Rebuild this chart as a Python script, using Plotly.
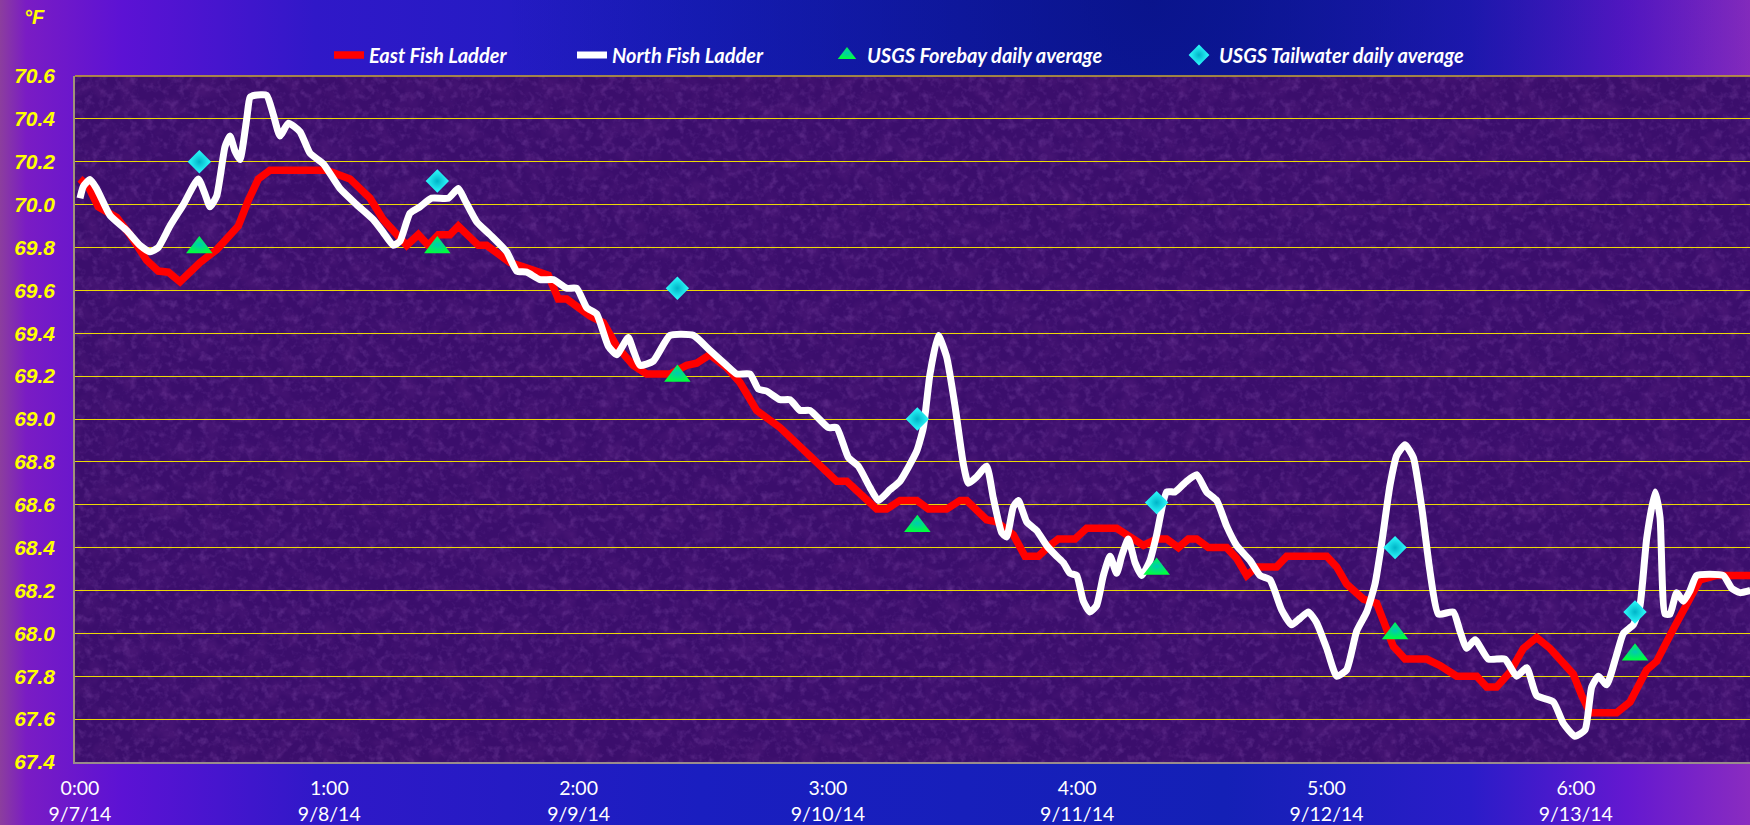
import base64
import pandas as pd
import plotly.graph_objects as go

START = pd.Timestamp("2014-09-07 00:00")

# ---- data (hours after 9/7/14 0:00, degrees F) ----
east_hours = [0, 0.80, 1.76, 3.53, 4.81, 6.42, 7.54, 8.50, 9.63, 11.55, 13.16, 15.24, 16.21, 17.17,
              18.29, 23.75, 25.99, 27.92, 29.20, 31.45, 32.57, 33.53, 34.50, 35.62, 36.42, 38.35,
              39.15, 41.40, 42.68, 43.96, 45.09, 46.05, 46.85, 49.10, 50.38, 51.66, 53.27, 54.55,
              56.80, 58.40, 59.37, 60.65, 62.25, 63.54, 65.14, 67.39, 69.64, 72.84, 73.81, 76.70,
              77.66, 78.94, 80.55, 81.67, 83.43, 84.72, 85.36, 87.28, 88.25, 89.85, 90.98, 92.26,
              93.38, 94.18, 95.79, 96.91, 99.80, 101.08, 102.37, 103.65, 104.61, 105.74, 106.70,
              107.50, 108.62, 110.39, 111.35, 112.32, 113.28, 115.20, 116.17, 120.02, 120.98,
              121.94, 123.55, 124.83, 125.63, 126.43, 127.56, 129.64, 130.93, 132.53, 134.46,
              135.42, 136.38, 137.67, 138.95, 140.23, 141.52, 143.76, 144.57, 145.37, 147.93,
              149.22, 150.82, 151.79, 153.39, 154.35, 155.96, 157.56, 160.8]
east_temp = [70.12, 70.085, 69.99, 69.94, 69.86, 69.74, 69.69, 69.685, 69.64, 69.73, 69.79, 69.90,
             70.02, 70.12, 70.16, 70.16, 70.12, 70.03, 69.93, 69.81, 69.86, 69.81, 69.86, 69.86,
             69.90, 69.81, 69.81, 69.73, 69.71, 69.69, 69.67, 69.56, 69.56, 69.48, 69.45, 69.34,
             69.25, 69.21, 69.21, 69.25, 69.26, 69.30, 69.24, 69.17, 69.04, 68.96, 68.86, 68.71,
             68.71, 68.58, 68.58, 68.62, 68.62, 68.58, 68.58, 68.62, 68.62, 68.53, 68.52, 68.46,
             68.36, 68.36, 68.41, 68.44, 68.44, 68.49, 68.49, 68.45, 68.41, 68.44, 68.44, 68.40,
             68.44, 68.44, 68.40, 68.40, 68.35, 68.27, 68.31, 68.31, 68.36, 68.36, 68.31, 68.23,
             68.16, 68.14, 68.04, 67.94, 67.88, 67.88, 67.85, 67.80, 67.80, 67.75, 67.75, 67.82,
             67.93, 67.98, 67.93, 67.81, 67.71, 67.63, 67.63, 67.68, 67.83, 67.87, 68.02, 68.11,
             68.25, 68.27, 68.27]

north_hours = [0, 0.32, 0.96, 1.60, 2.89, 4.49, 5.78, 6.74, 7.54, 8.66, 9.95, 11.39, 12.03, 12.52,
               13.16, 13.96, 14.44, 14.92, 15.40, 16.05, 16.37, 16.85, 17.97, 18.61, 19.25, 20.06,
               21.18, 22.14, 23.43, 25.03, 26.63, 28.24, 29.20, 30.16, 30.81, 31.77, 32.73, 33.85,
               35.46, 36.42, 37.06, 38.19, 39.47, 41.08, 42.04, 43.00, 44.28, 45.57, 46.85, 47.81,
               48.78, 49.74, 50.86, 51.66, 52.79, 53.27, 53.91, 55.19, 56.80, 59.05, 60.65, 62.25,
               63.22, 64.50, 65.30, 66.11, 67.39, 68.35, 69.31, 70.28, 72.04, 72.84, 73.97, 74.93,
               76.05, 76.86, 77.98, 78.94, 80.55, 81.19, 81.83, 82.63, 83.43, 84.24, 85.04, 85.52,
               86.32, 87.28, 87.93, 88.73, 89.21, 89.85, 90.33, 91.14, 92.10, 93.06, 94.02, 94.67,
               95.31, 95.95, 96.59, 97.23, 97.87, 98.52, 99.16, 99.80, 100.28, 100.92, 101.57,
               102.21, 103.01, 103.65, 104.61, 105.42, 106.54, 107.50, 108.46, 109.43, 110.39,
               111.35, 112.64, 113.60, 114.56, 115.68, 116.65, 117.45, 118.25, 119.05, 120.02,
               120.98, 121.94, 122.90, 123.87, 124.67, 125.31, 126.11, 126.76, 127.56, 128.36,
               129.16, 129.96, 130.77, 132.21, 132.85, 133.49, 134.30, 135.58, 137.18, 138.31,
               139.27, 140.23, 141.84, 142.80, 143.92, 144.89, 145.53, 146.17, 146.97, 147.93,
               148.58, 149.54, 150.18, 150.82, 151.63, 152.11, 152.59, 153.07, 153.71, 154.35,
               155.00, 155.64, 158.20, 159.01, 159.81, 160.8]
north_temp = [70.03, 70.085, 70.117, 70.075, 69.95, 69.88, 69.81, 69.78, 69.80, 69.90, 70.00, 70.12,
              70.05, 69.99, 70.04, 70.27, 70.32, 70.25, 70.21, 70.40, 70.50, 70.51, 70.51, 70.42,
              70.32, 70.38, 70.34, 70.24, 70.19, 70.075, 70.00, 69.93, 69.87, 69.81, 69.83, 69.96,
              69.99, 70.03, 70.03, 70.075, 70.02, 69.92, 69.86, 69.78, 69.69, 69.685, 69.65, 69.65,
              69.61, 69.61, 69.52, 69.49, 69.34, 69.30, 69.38, 69.32, 69.25, 69.27, 69.39, 69.39,
              69.32, 69.25, 69.21, 69.21, 69.14, 69.13, 69.09, 69.09, 69.04, 69.04, 68.96, 68.96,
              68.82, 68.78, 68.68, 68.62, 68.67, 68.71, 68.85, 68.96, 69.21, 69.39, 69.29, 69.06,
              68.79, 68.70, 68.73, 68.78, 68.63, 68.47, 68.45, 68.59, 68.62, 68.52, 68.48, 68.41,
              68.36, 68.33, 68.28, 68.27, 68.15, 68.10, 68.13, 68.27, 68.36, 68.28, 68.36, 68.44,
              68.33, 68.27, 68.34, 68.46, 68.66, 68.66, 68.71, 68.74, 68.66, 68.62, 68.50, 68.41,
              68.34, 68.27, 68.25, 68.11, 68.04, 68.07, 68.10, 68.05, 67.93, 67.80, 67.83, 68.01,
              68.10, 68.23, 68.42, 68.69, 68.83, 68.88, 68.82, 68.59, 68.29, 68.09, 68.10, 68.01,
              67.93, 67.97, 67.88, 67.88, 67.80, 67.84, 67.71, 67.68, 67.58, 67.52, 67.55, 67.75,
              67.80, 67.76, 67.90, 68.00, 68.04, 68.13, 68.44, 68.66, 68.54, 68.09, 68.09, 68.19,
              68.15, 68.20, 68.27, 68.27, 68.21, 68.19, 68.20]

usgs_hours = [11.49, 34.40, 57.51, 80.61, 103.65, 126.60, 149.70]
forebay_temp = [69.80, 69.80, 69.20, 68.50, 68.30, 68.00, 67.90]
tailwater_temp = [70.20, 70.11, 69.61, 69.00, 68.61, 68.40, 68.10]

series_names = ["East Fish Ladder", "North Fish Ladder",
                "USGS Forebay daily average", "USGS Tailwater daily average"]
y_ticks = [67.4, 67.6, 67.8, 68.0, 68.2, 68.4, 68.6, 68.8, 69.0, 69.2, 69.4, 69.6, 69.8, 70.0,
           70.2, 70.4, 70.6]
x_tick_hours = [0, 24, 48, 72, 96, 120, 144]
x_tick_labels = ["0:00<br>9/7/14", "1:00<br>9/8/14", "2:00<br>9/9/14", "3:00<br>9/10/14",
                 "4:00<br>9/11/14", "5:00<br>9/12/14", "6:00<br>9/13/14"]


def to_time(hours):
    return START + pd.to_timedelta(hours, unit="h")


# ---- layout geometry (pixels) ----
W, H = 1750, 825
ML, MR, MT, MB = 75, 0, 76, 63
PW, PH = W - ML - MR, H - MT - MB

# background: gradient paper + textured plot area (SVG, inline)
svg = f'''<svg xmlns="http://www.w3.org/2000/svg" width="{W}" height="{H}" viewBox="0 0 {W} {H}">
<defs>
<linearGradient id="g" x1="0" y1="0" x2="1" y2="0">
<stop offset="0" stop-color="#8c3e9e"/>
<stop offset="0.015" stop-color="#7a1cc4"/>
<stop offset="0.07" stop-color="#5c12d4"/>
<stop offset="0.18" stop-color="#3018c8"/>
<stop offset="0.40" stop-color="#1a1ec0"/>
<stop offset="0.70" stop-color="#1420b6"/>
<stop offset="0.84" stop-color="#2a1cc8"/>
<stop offset="0.93" stop-color="#6418d0"/>
<stop offset="1" stop-color="#8a2cc0"/>
</linearGradient>
<radialGradient id="r" cx="1150" cy="0" r="650" gradientUnits="userSpaceOnUse">
<stop offset="0" stop-color="#06107e" stop-opacity="0.75"/>
<stop offset="1" stop-color="#06107e" stop-opacity="0"/>
</radialGradient>
<filter id="n1" x="0" y="0" width="1" height="1">
<feTurbulence type="fractalNoise" baseFrequency="0.13" numOctaves="3" seed="7"/>
<feColorMatrix type="matrix" values="0 0 0 0 0.38  0 0 0 0 0.15  0 0 0 0 0.60  1.8 0 0 0 -0.85"/>
</filter>
<filter id="n2" x="0" y="0" width="1" height="1">
<feTurbulence type="fractalNoise" baseFrequency="0.05" numOctaves="3" seed="21"/>
<feColorMatrix type="matrix" values="0 0 0 0 0.12  0 0 0 0 0.02  0 0 0 0 0.24  0 1.8 0 0 -0.8"/>
</filter>
</defs>
<rect width="{W}" height="{H}" fill="url(#g)"/>
<rect width="{W}" height="{H}" fill="url(#r)"/>
<rect x="{ML}" y="{MT}" width="{PW}" height="{PH}" fill="#3b0e6c"/>
<rect x="{ML}" y="{MT}" width="{PW}" height="{PH}" fill="#000" filter="url(#n1)" opacity="0.35"/>
<rect x="{ML}" y="{MT}" width="{PW}" height="{PH}" fill="#000" filter="url(#n2)" opacity="0.45"/>
</svg>'''
bg_uri = "data:image/svg+xml;base64," + base64.b64encode(svg.encode()).decode()

fig = go.Figure()

legend_font = dict(family="Lato, 'Open Sans', sans-serif", size=20, color="white",
                   weight="bold", style="italic")

fig.add_trace(go.Scatter(
    x=to_time(east_hours), y=east_temp, mode="lines", name=series_names[0],
    line=dict(color="#ff0000", width=7.5), legend="legend"))
fig.add_trace(go.Scatter(
    x=to_time(north_hours), y=north_temp, mode="lines", name=series_names[1],
    line=dict(color="#ffffff", width=7, shape="spline", smoothing=0.5), legend="legend2"))
fig.add_trace(go.Scatter(
    x=to_time(usgs_hours), y=forebay_temp, mode="markers", name=series_names[2],
    marker=dict(symbol="triangle-up", size=23, color="#00ff40",
                gradient=dict(type="radial", color="#00c8b4"), line=dict(width=0)),
    legend="legend3"))
fig.add_trace(go.Scatter(
    x=to_time(usgs_hours), y=tailwater_temp, mode="markers", name=series_names[3],
    marker=dict(symbol="diamond", size=18, color="#30ffff",
                gradient=dict(type="radial", color="#00b4c8"), line=dict(width=0)),
    legend="legend4"))


def px_x(px):
    return (px - ML) / PW


def px_y(py):
    return (H - MB - py) / PH


legend_common = dict(orientation="h", font=legend_font, bgcolor="rgba(0,0,0,0)",
                     borderwidth=0, yanchor="middle", xanchor="left", y=px_y(55))
text_starts = [369, 612, 867, 1219]

fig.update_layout(
    width=W, height=H,
    margin=dict(l=ML, r=MR, t=MT, b=MB, pad=0),
    paper_bgcolor="#1a1ec0",
    plot_bgcolor="rgba(0,0,0,0)",
    showlegend=True,
    legend=dict(x=px_x(text_starts[0] - 40), **legend_common),
    legend2=dict(x=px_x(text_starts[1] - 40), **legend_common),
    legend3=dict(x=px_x(text_starts[2] - 40), **legend_common),
    legend4=dict(x=px_x(text_starts[3] - 40), **legend_common),
    images=[dict(source=bg_uri, xref="paper", yref="paper",
                 x=-ML / PW, y=1 + MT / PH, sizex=W / PW, sizey=H / PH,
                 xanchor="left", yanchor="top", sizing="stretch", layer="below")],
    xaxis=dict(
        type="date",
        range=[to_time(-0.48), to_time(160.77)],
        tickvals=to_time(x_tick_hours), ticktext=x_tick_labels,
        showgrid=False, zeroline=False,
        showline=True, linecolor="#9a8c8c", linewidth=1.5,
        ticks="", ticklabelstandoff=8,
        tickfont=dict(family="Lato, 'Open Sans', sans-serif", size=19.5, color="white"),
    ),
    yaxis=dict(
        range=[67.4, 70.6],
        tickvals=y_ticks, tickformat=".1f",
        showgrid=True, gridcolor="rgba(245,228,0,0.95)", gridwidth=1.4,
        zeroline=False,
        showline=True, linecolor="#a09478", linewidth=1.5,
        ticks="", ticklabelstandoff=14,
        tickfont=dict(family="Liberation Sans, Arial, sans-serif", size=21, color="#ffff00",
                      weight="bold", style="italic"),
    ),
    annotations=[dict(text="°F", xref="paper", yref="paper", x=px_x(34), y=px_y(17),
                      xanchor="center", yanchor="middle", showarrow=False,
                      font=dict(family="Liberation Sans, Arial, sans-serif", size=20,
                                color="#ffff00", weight="bold", style="italic"))],
    shapes=[dict(type="line", xref="paper", yref="paper", x0=0, x1=1, y0=1, y1=1,
                 line=dict(color="#c8a830", width=1.5), layer="above")],
)

fig.write_html("out.html",
               config={"displayModeBar": False},
               post_script="document.body.style.margin='0';"
                           "document.body.style.overflow='hidden';")
